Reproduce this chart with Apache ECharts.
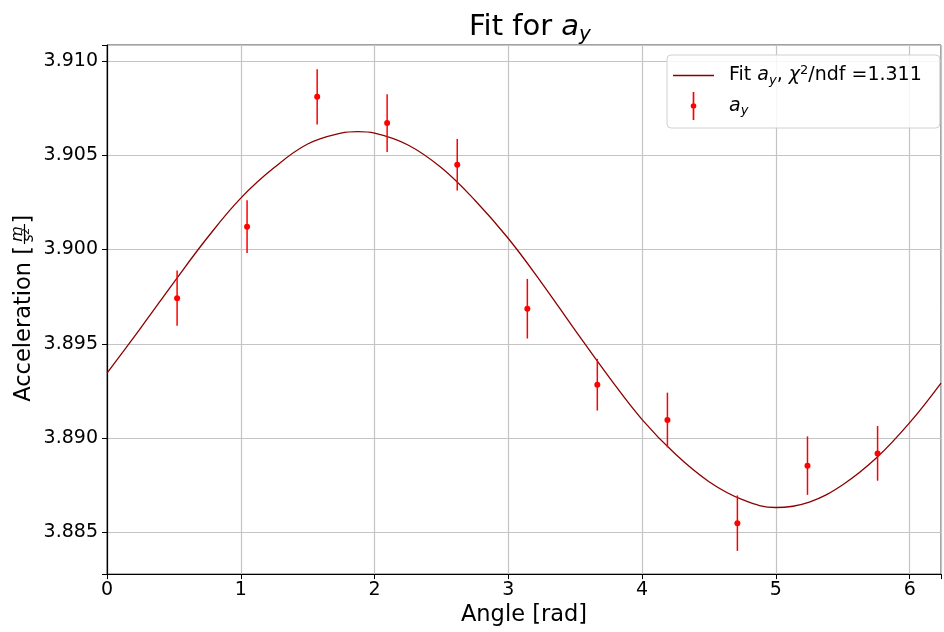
<!DOCTYPE html>
<html lang="en">
<head>
    <meta charset="UTF-8">
    <title>Fit for a_y</title>
    <script type="text/javascript" src="https://cdn.jsdelivr.net/npm/echarts@6/dist/echarts.min.js"></script>
    <style>
        body { margin: 0; background: #fff; }
        #container { width: 944px; height: 632px; }
    </style>
</head>
<body>
<div id="container"></div>
<script>
    // measured points (angle in rad, acceleration in m/s^2, error)
    var angles = [0.524, 1.047, 1.571, 2.094, 2.618, 3.142, 3.665, 4.189, 4.712, 5.236, 5.760];
    var accel = [3.89742, 3.90121, 3.90809, 3.90670, 3.90449, 3.89686, 3.89283, 3.89096, 3.88549, 3.88854, 3.88919];
    var errors = [0.00147, 0.00140, 0.00147, 0.00153, 0.00137, 0.00158, 0.00137, 0.00145, 0.00147, 0.00155, 0.00145];

    // fit curve
    var fitX = [0, 0.25, 0.5, 0.75, 1, 1.25, 1.5, 1.75, 1.875, 2, 2.25, 2.5, 2.75, 3, 3.25, 3.5, 3.75,
        4, 4.25, 4.5, 4.75, 5, 5.25, 5.5, 5.75, 6, 6.234];
    var fitY = [3.89345, 3.89582, 3.89826, 3.90062, 3.90272, 3.90434, 3.90559, 3.90617, 3.90625, 3.90617,
        3.90554, 3.90433, 3.90261, 3.90058, 3.89822, 3.89571, 3.89326, 3.89098, 3.88914, 3.88769,
        3.88674, 3.88632, 3.88661, 3.88753, 3.88894, 3.89082, 3.89292];

    var xTicks = [0, 1, 2, 3, 4, 5, 6];
    var yTicks = ['3.885', '3.890', '3.895', '3.900', '3.905', '3.910'];

    var FONT = '"DejaVu Sans", sans-serif';

    var points = [];
    var bars = [];
    for (var i = 0; i < angles.length; i++) {
        points.push([angles[i], accel[i]]);
        bars.push([angles[i], accel[i] - errors[i], accel[i] + errors[i]]);
    }
    var fitData = [];
    for (var j = 0; j < fitX.length; j++) {
        fitData.push([fitX[j], fitY[j]]);
    }

    var dom = document.getElementById("container");
    var myChart = echarts.init(dom, null, {renderer: 'canvas'});
    var option = {
        animation: false,
        backgroundColor: '#fff',
        title: {
            text: '{n|Fit for }{i|a}{s|y}',
            left: 525,
            top: 4,
            textAlign: 'center',
            textStyle: {
                fontWeight: 'normal',
                rich: {
                    n: {fontSize: 29, fontFamily: FONT, fontWeight: 'normal', color: '#000'},
                    i: {fontSize: 29, fontFamily: FONT, fontWeight: 'normal', fontStyle: 'italic', color: '#000'},
                    s: {fontSize: 20, fontFamily: FONT, fontWeight: 'normal', fontStyle: 'italic', color: '#000', padding: [16, 0, 0, 0]}
                }
            }
        },
        grid: {
            left: 107, right: 0, top: 45, bottom: 54,
            show: true, borderColor: '#444', borderWidth: 1
        },
        legend: {
            orient: 'vertical',
            left: 667,
            top: 55,
            padding: [9, 18, 8, 6],
            itemGap: 5,
            itemWidth: 41,
            itemHeight: 28,
            backgroundColor: 'rgba(255,255,255,0.85)',
            borderColor: '#d0d0d0',
            borderWidth: 1,
            borderRadius: 4,
            data: [
                {name: 'fit', icon: 'path://M0,0L41,0L41,1.3L0,1.3Z'},
                {name: 'data', icon: 'path://M2.4,0L3.6,0L3.6,20L2.4,20Z M3,8A2,2 0 1 1 3,12A2,2 0 1 1 3,8Z'}
            ],
            formatter: function (name) {
                if (name === 'fit') {
                    return '{n|Fit }{i|a}{s|y}{n|, }{i|χ}{p|2}{n|/ndf =1.311}';
                }
                return '{i|a}{s|y}';
            },
            textStyle: {
                padding: [0, 0, 0, 10],
                rich: {
                    n: {fontSize: 19, fontFamily: FONT, color: '#000', lineHeight: 20},
                    i: {fontSize: 19, fontFamily: FONT, fontStyle: 'italic', color: '#000', lineHeight: 20},
                    s: {fontSize: 13, fontFamily: FONT, fontStyle: 'italic', color: '#000', padding: [10, 0, 0, 0], lineHeight: 20},
                    p: {fontSize: 13, fontFamily: FONT, color: '#000', padding: [0, 0, 10, 0], lineHeight: 20}
                }
            }
        },
        xAxis: {
            type: 'value',
            min: 0,
            max: 6.234,
            interval: 1,
            name: 'Angle [rad]',
            nameLocation: 'middle',
            nameGap: 26,
            nameTextStyle: {fontSize: 22.5, fontFamily: FONT, color: '#000'},
            axisLine: {show: true, lineStyle: {color: '#000', width: 1.2}},
            axisTick: {show: true, length: 5, lineStyle: {color: '#000'}},
            axisLabel: {
                fontSize: 19, fontFamily: FONT, color: '#000', margin: 6,
                formatter: function (v) {
                    return xTicks.indexOf(v) >= 0 ? String(v) : '';
                }
            },
            splitLine: {show: true, lineStyle: {color: '#c4c4c4', width: 1.2}}
        },
        yAxis: {
            type: 'value',
            min: 3.88279,
            max: 3.91084,
            splitNumber: 5,
            axisLine: {show: true, lineStyle: {color: '#000', width: 1.2}},
            axisTick: {show: true, length: 5, lineStyle: {color: '#000'}},
            axisLabel: {
                fontSize: 19, fontFamily: FONT, color: '#000', margin: 9,
                formatter: function (v) {
                    var s = v.toFixed(3);
                    return yTicks.indexOf(s) >= 0 && Math.abs(v - parseFloat(s)) < 1e-7 ? s : '';
                }
            },
            splitLine: {show: true, lineStyle: {color: '#c4c4c4', width: 1.2}}
        },
        graphic: [{
            type: 'group',
            x: 24,
            y: 246,
            rotation: Math.PI / 2,
            children: [
                {type: 'text', x: 0, y: 0, style: {text: 'Acceleration [', fontSize: 22.5, fontFamily: FONT, fill: '#000', align: 'right', verticalAlign: 'middle'}},
                {type: 'text', x: 12, y: -6, style: {text: 'm', fontSize: 16, fontStyle: 'italic', fontFamily: FONT, fill: '#000', align: 'center', verticalAlign: 'middle'}},
                {type: 'line', shape: {x1: 2, y1: 0.5, x2: 22, y2: 0.5}, style: {stroke: '#000', lineWidth: 1.2}},
                {type: 'text', x: 8, y: 5.5, style: {text: 's', fontSize: 15, fontStyle: 'italic', fontFamily: FONT, fill: '#000', align: 'center', verticalAlign: 'middle'}},
                {type: 'text', x: 14.5, y: 2.5, style: {text: '2', fontSize: 11, fontFamily: FONT, fill: '#000', align: 'center', verticalAlign: 'middle'}},
                {type: 'text', x: 22.5, y: 0, style: {text: ']', fontSize: 22.5, fontFamily: FONT, fill: '#000', align: 'left', verticalAlign: 'middle'}}
            ]
        }],
        series: [
            {
                name: 'fit',
                type: 'line',
                data: fitData,
                smooth: 0.4,
                symbol: 'none',
                clip: true,
                lineStyle: {color: '#8b0000', width: 1.3},
                itemStyle: {color: '#8b0000'},
                z: 3
            },
            {
                name: 'errors',
                type: 'custom',
                data: bars,
                renderItem: function (params, api) {
                    var p1 = api.coord([api.value(0), api.value(1)]);
                    var p2 = api.coord([api.value(0), api.value(2)]);
                    return {
                        type: 'line',
                        shape: {x1: p1[0], y1: p1[1], x2: p2[0], y2: p2[1]},
                        style: {stroke: '#ff0000', lineWidth: 1.5}
                    };
                },
                z: 4
            },
            {
                name: 'data',
                type: 'scatter',
                data: points,
                symbol: 'circle',
                symbolSize: 6,
                itemStyle: {color: '#ff0000', opacity: 1},
                z: 5
            }
        ]
    };
    myChart.setOption(option, true);
</script>
</body>
</html>
